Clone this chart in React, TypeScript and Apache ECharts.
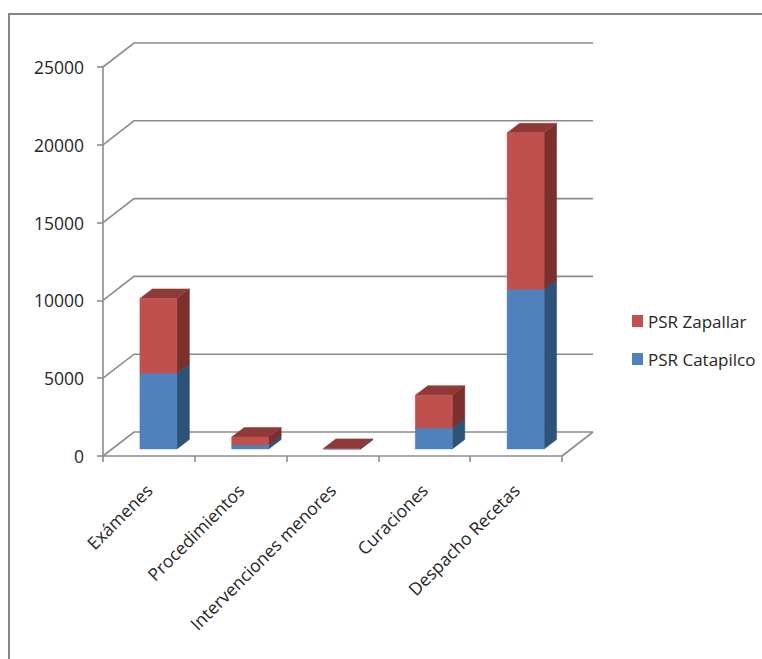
import React, { useEffect, useRef } from "react";
import * as echarts from "echarts";

const categories = ["Exámenes", "Procedimientos", "Intervenciones menores", "Curaciones", "Despacho Recetas"];
const catapilco = [4870, 260, 10, 1350, 10260];
const zapallar = [4810, 510, 30, 2110, 10060];
const yTicks = [0, 5000, 10000, 15000, 20000, 25000];

const FONT = "'Open Sans', sans-serif";
const TEXT = "#262626";
const LINE = "#8c8c8c";
const WALL_DX = 31;
const WALL_DY = -24;
const BAR_W = 37;
const BAR_DX = 9.5;
const BAR_DY = -7;
const SIDE_DX = 12.5;
const SIDE_DY = -9.5;

function barRenderer(front: string, side: string, top: string) {
  return (_params: any, api: any) => {
    const i = api.value(0);
    const lo = api.coord([i, api.value(1)]);
    const hi = api.coord([i, api.value(2)]);
    const x0 = lo[0] + BAR_DX - BAR_W / 2;
    const x1 = x0 + BAR_W;
    const yb = lo[1] + BAR_DY;
    const yt = hi[1] + BAR_DY;
    const poly = (points: number[][], fill: string) => ({
      type: "polygon",
      shape: { points },
      style: { fill, stroke: fill, lineWidth: 0.5 },
    });
    return {
      type: "group",
      children: [
        poly([[x1, yb], [x1 + SIDE_DX, yb + SIDE_DY], [x1 + SIDE_DX, yt + SIDE_DY], [x1, yt]], side),
        poly([[x0, yt], [x1, yt], [x1 + SIDE_DX, yt + SIDE_DY], [x0 + SIDE_DX, yt + SIDE_DY]], top),
        poly([[x0, yb], [x1, yb], [x1, yt], [x0, yt]], front),
      ],
    };
  };
}

function wallRenderer(params: any, api: any) {
  const v = api.value(0);
  const cs = params.coordSys;
  const y = api.coord([0, v])[1];
  const left = cs.x;
  const right = cs.x + cs.width;
  const style = { stroke: LINE, lineWidth: 1.6, fill: "none" };
  const children: any[] = [
    {
      type: "polyline",
      shape: { points: [[left, y], [left + WALL_DX, y + WALL_DY], [right + WALL_DX, y + WALL_DY]] },
      style,
    },
  ];
  if (v === 0) {
    children.push({
      type: "line",
      shape: { x1: right, y1: y, x2: right + WALL_DX, y2: y + WALL_DY },
      style,
    });
  }
  return { type: "group", children };
}

export default function App() {
  const ref = useRef<HTMLDivElement>(null);
  useEffect(() => {
    const chart = echarts.init(ref.current!, undefined, { renderer: "svg" });
    const axisLine = { show: true, lineStyle: { color: LINE, width: 1.6 } };
    const axisTick = { show: true, length: 6, lineStyle: { color: LINE, width: 1.6 } };
    chart.setOption({
      animation: false,
      backgroundColor: "#ffffff",
      grid: { left: 103, top: 67, width: 459, height: 389 },
      xAxis: {
        type: "category",
        data: categories,
        axisLine,
        axisTick,
        axisLabel: {
          interval: 0,
          rotate: 45,
          margin: 31,
          fontFamily: FONT,
          fontSize: 17.5,
          color: TEXT,
        },
      },
      yAxis: {
        type: "value",
        min: 0,
        max: 25000,
        interval: 5000,
        axisLine,
        axisTick,
        splitLine: { show: false },
        axisLabel: {
          margin: 19,
          fontFamily: FONT,
          fontSize: 17.5,
          color: TEXT,
          padding: [5, 0, 0, 0],
          formatter: (v: number) => String(v),
        },
      },
      legend: {
        left: 632,
        top: 310,
        padding: 0,
        orient: "vertical",
        selectedMode: false,
        icon: "rect",
        itemWidth: 11,
        itemHeight: 12,
        itemGap: 16,
        data: ["PSR Zapallar", "PSR Catapilco"],
        textStyle: { fontFamily: FONT, fontSize: 17, color: TEXT, height: 22, lineHeight: 22 },
      },
      graphic: [
        {
          type: "polyline",
          shape: { points: [[9, 659], [9, 14], [762, 14]] },
          style: { stroke: "#868686", lineWidth: 2, fill: "none" },
        },
      ],
      series: [
        {
          type: "custom",
          name: "walls",
          renderItem: wallRenderer,
          data: yTicks.map((v) => [v]),
          encode: { y: 0 },
          clip: false,
          silent: true,
          z: 1,
        },
        {
          type: "custom",
          name: "PSR Catapilco",
          renderItem: barRenderer("#4f81bd", "#2f5279", "#3a6595"),
          data: catapilco.map((v, i) => [i, 0, v]),
          encode: { x: 0, y: [1, 2] },
          itemStyle: { color: "#4f81bd" },
          clip: false,
          z: 2,
        },
        {
          type: "custom",
          name: "PSR Zapallar",
          renderItem: barRenderer("#c0504d", "#7b302e", "#8f3a37"),
          data: zapallar.map((v, i) => [i, catapilco[i], catapilco[i] + v]),
          encode: { x: 0, y: [1, 2] },
          itemStyle: { color: "#c0504d" },
          clip: false,
          z: 3,
        },
      ],
    });
    return () => chart.dispose();
  }, []);
  return <div ref={ref} style={{ position: "fixed", left: 0, top: 0, width: 762, height: 659 }} />;
}
